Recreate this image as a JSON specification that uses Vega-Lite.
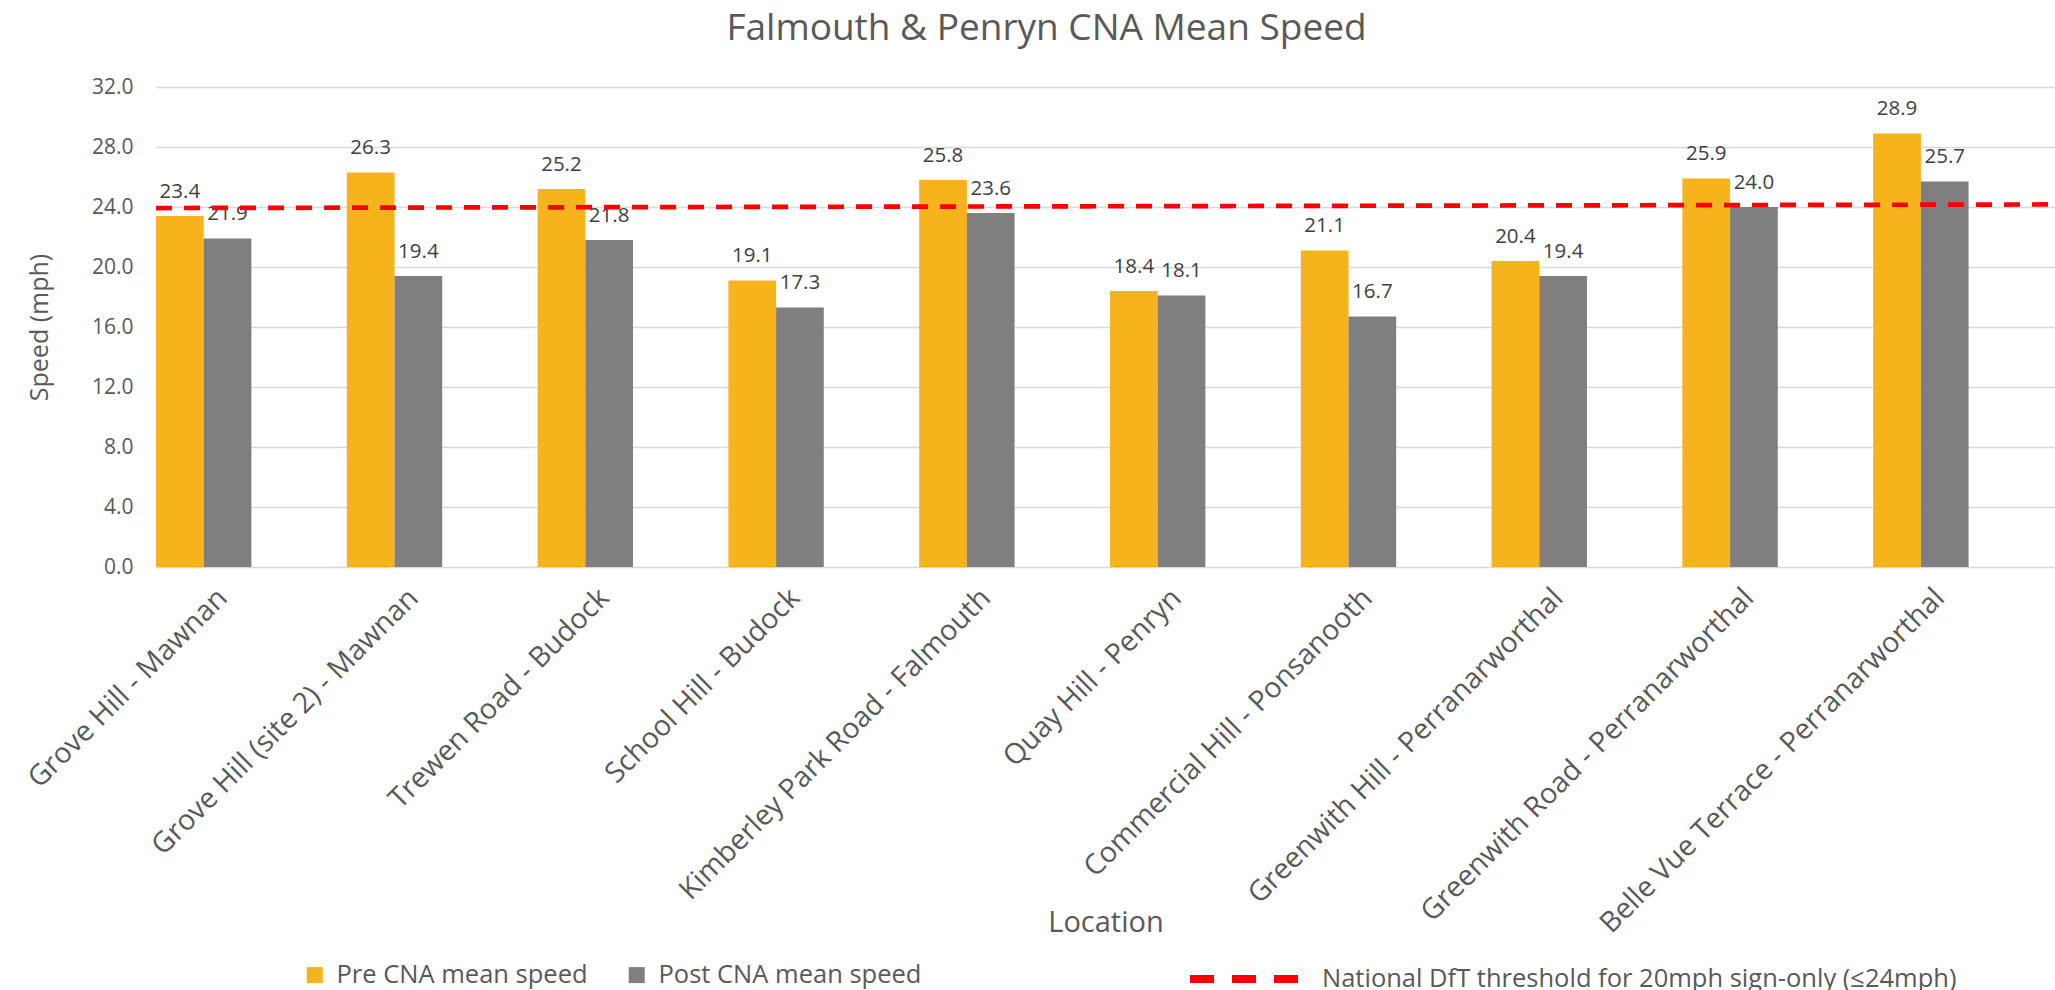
{
  "$schema": "https://vega.github.io/schema/vega-lite/v6.json",
  "autosize": {"type": "none"},
  "width": 1899,
  "height": 480,
  "padding": {"left": 156, "top": 87, "right": 0, "bottom": 423},
  "background": "#ffffff",
  "config": {"font": "Open Sans", "view": {"stroke": null}},
  "title": {"text": "Falmouth & Penryn CNA Mean Speed", "font": "Open Sans", "fontSize": 37, "fontWeight": "normal", "color": "#595959", "anchor": "middle", "frame": "group", "dx": -59, "baseline": "alphabetic", "offset": -1},
  "datasets": {
    "speeds": [
      {"location": "Grove Hill - Mawnan", "series": "Pre CNA mean speed", "speed": 23.4},
      {"location": "Grove Hill - Mawnan", "series": "Post CNA mean speed", "speed": 21.9},
      {"location": "Grove Hill (site 2) - Mawnan", "series": "Pre CNA mean speed", "speed": 26.3},
      {"location": "Grove Hill (site 2) - Mawnan", "series": "Post CNA mean speed", "speed": 19.4},
      {"location": "Trewen Road - Budock", "series": "Pre CNA mean speed", "speed": 25.2},
      {"location": "Trewen Road - Budock", "series": "Post CNA mean speed", "speed": 21.8},
      {"location": "School Hill - Budock", "series": "Pre CNA mean speed", "speed": 19.1},
      {"location": "School Hill - Budock", "series": "Post CNA mean speed", "speed": 17.3},
      {"location": "Kimberley Park Road - Falmouth", "series": "Pre CNA mean speed", "speed": 25.8},
      {"location": "Kimberley Park Road - Falmouth", "series": "Post CNA mean speed", "speed": 23.6},
      {"location": "Quay Hill - Penryn", "series": "Pre CNA mean speed", "speed": 18.4},
      {"location": "Quay Hill - Penryn", "series": "Post CNA mean speed", "speed": 18.1},
      {"location": "Commercial Hill - Ponsanooth", "series": "Pre CNA mean speed", "speed": 21.1},
      {"location": "Commercial Hill - Ponsanooth", "series": "Post CNA mean speed", "speed": 16.7},
      {"location": "Greenwith Hill - Perranarworthal", "series": "Pre CNA mean speed", "speed": 20.4},
      {"location": "Greenwith Hill - Perranarworthal", "series": "Post CNA mean speed", "speed": 19.4},
      {"location": "Greenwith Road - Perranarworthal", "series": "Pre CNA mean speed", "speed": 25.9},
      {"location": "Greenwith Road - Perranarworthal", "series": "Post CNA mean speed", "speed": 24.0},
      {"location": "Belle Vue Terrace - Perranarworthal", "series": "Pre CNA mean speed", "speed": 28.9},
      {"location": "Belle Vue Terrace - Perranarworthal", "series": "Post CNA mean speed", "speed": 25.7}
    ],
    "threshold": [
      {"series": "National DfT threshold for 20mph sign-only (≤24mph)", "pos": 0, "speed": 23.93},
      {"series": "National DfT threshold for 20mph sign-only (≤24mph)", "pos": 1, "speed": 24.17}
    ]
  },
  "layer": [
    {
      "data": {"name": "speeds"},
      "encoding": {
        "x": {
          "field": "location", "type": "nominal", "sort": null,
          "scale": {"paddingInner": 0.5, "paddingOuter": 0.2265, "align": 0},
          "axis": {
            "labelAngle": -45, "labelFont": "Open Sans", "labelFontSize": 28.5, "labelColor": "#595959",
            "labelPadding": 16, "labelOffset": 9, "labelLimit": 0,
            "domain": false, "ticks": false,
            "title": "Location", "titleFont": "Open Sans", "titleFontSize": 29, "titleFontWeight": "normal", "titleColor": "#595959",
            "titleBaseline": "alphabetic", "titleY": 364
          }
        },
        "xOffset": {"field": "series", "type": "nominal", "sort": ["Pre CNA mean speed", "Post CNA mean speed"], "scale": {"paddingInner": 0, "paddingOuter": 0}},
        "y": {
          "field": "speed", "type": "quantitative",
          "scale": {"domain": [0, 32], "nice": false},
          "axis": {
            "values": [0, 4, 8, 12, 16, 20, 24, 28, 32], "format": ".1f",
            "grid": true, "gridColor": "#D9D9D9", "gridWidth": 1.5,
            "domain": false, "ticks": false,
            "labelFont": "Open Sans", "labelFontSize": 21, "labelColor": "#595959", "labelPadding": 23,
            "title": "Speed (mph)", "titleFont": "Open Sans", "titleFontSize": 25, "titleFontWeight": "normal", "titleColor": "#595959",
            "titleX": -117, "titleBaseline": "middle"
          }
        }
      },
      "layer": [
        {
          "mark": {"type": "bar"},
          "encoding": {
            "color": {
              "field": "series", "type": "nominal",
              "scale": {"domain": ["Pre CNA mean speed", "Post CNA mean speed"], "range": ["#F7B31B", "#7F7F7F"]},
              "legend": {
                "orient": "none", "legendX": 146, "legendY": 875, "direction": "horizontal", "title": null,
                "symbolType": "square", "symbolSize": 256, "symbolStrokeWidth": 0,
                "labelFont": "Open Sans", "labelFontSize": 25.5, "labelColor": "#595959", "labelOffset": 9,
                "columnPadding": 36, "padding": 0, "labelLimit": 0
              }
            }
          }
        },
        {
          "mark": {"type": "text", "baseline": "alphabetic", "dy": -18.5, "fontSize": 20.5, "font": "Open Sans", "color": "#404040"},
          "encoding": {"text": {"field": "speed", "type": "quantitative", "format": ".1f"}}
        }
      ]
    },
    {
      "data": {"name": "threshold"},
      "mark": {"type": "line", "strokeWidth": 4.7, "strokeDash": [16, 12], "clip": false},
      "encoding": {
        "x": {"field": "pos", "type": "quantitative", "scale": {"domain": [0, 1], "nice": false, "zero": false}, "axis": null},
        "y": {"field": "speed", "type": "quantitative"},
        "stroke": {
          "field": "series", "type": "nominal",
          "scale": {"range": ["#FF0000"]},
          "legend": {
            "orient": "none", "legendX": 1030, "legendY": 834, "title": null,
            "symbolType": "stroke", "symbolSize": 11664, "symbolStrokeWidth": 8, "symbolDash": [24, 18],
            "labelFont": "Open Sans", "labelFontSize": 25.5, "labelColor": "#595959", "labelOffset": 20,
            "padding": 0, "labelLimit": 0
          }
        }
      }
    }
  ],
  "resolve": {"scale": {"x": "independent"}}
}
